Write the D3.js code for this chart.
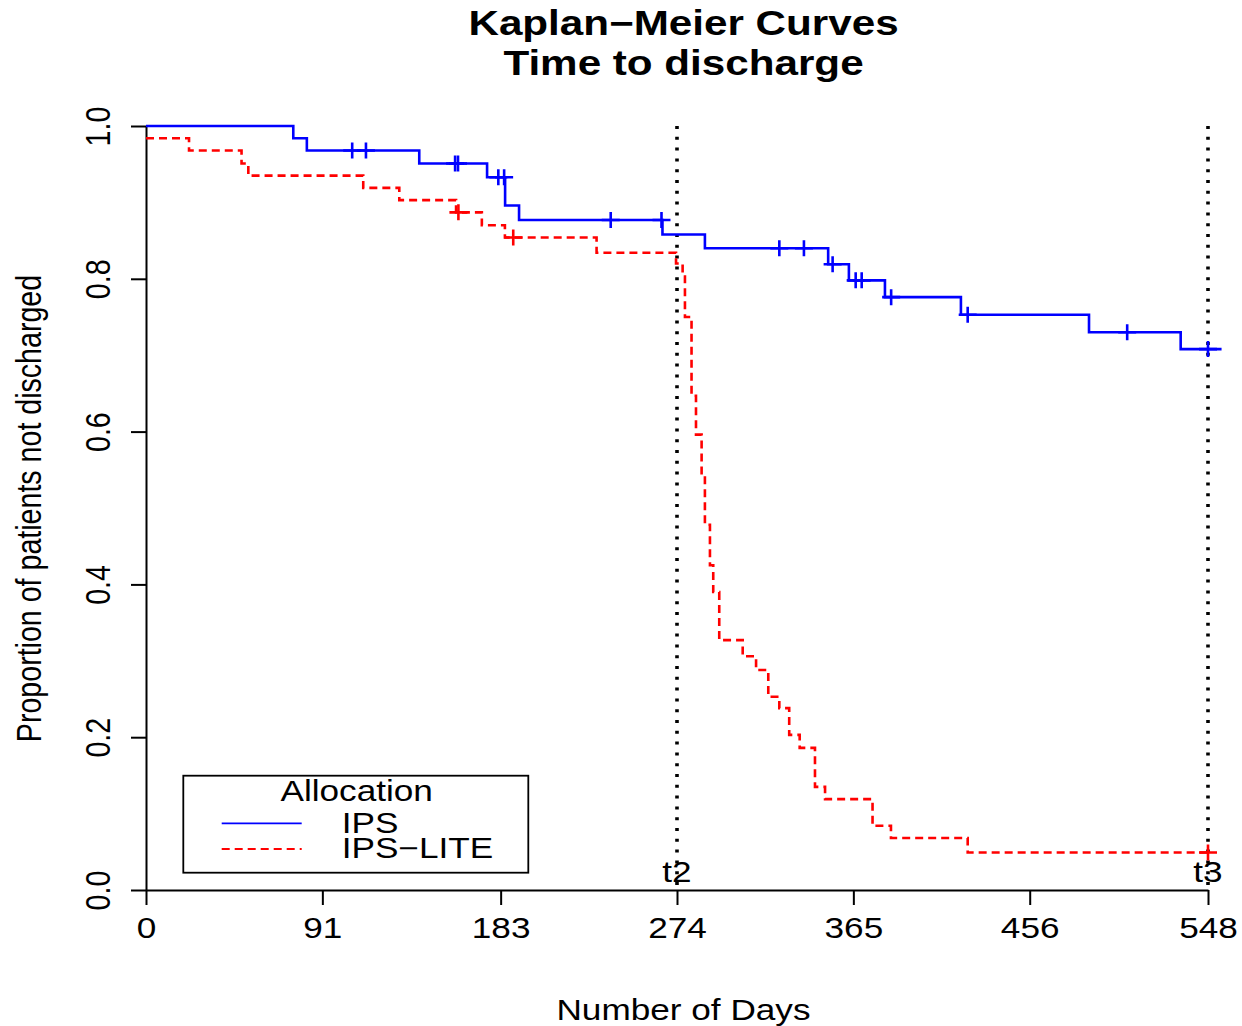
<!DOCTYPE html>
<html>
<head>
<meta charset="utf-8">
<script src="https://cdn.jsdelivr.net/npm/d3@7"></script>
<style>
  html, body { margin: 0; padding: 0; background: #fff; }
  svg { display: block; }
  text { font-family: "Liberation Sans", Arial, Helvetica, sans-serif; fill: #000; }
</style>
</head>
<body>
<svg id="chart" width="1242" height="1026"></svg>
<script>
// ---- Data ----
const titleLines = ["Kaplan\u2212Meier Curves", "Time to discharge"];
const xLabel = "Number of Days";
const yLabel = "Proportion of patients not discharged";
const xTicks = [0, 91, 183, 274, 365, 456, 548];
const yTicks = [0, 0.2, 0.4, 0.6, 0.8, 1.0];
const seriesNames = ["IPS", "IPS\u2212LITE"];
const legendTitle = "Allocation";

// IPS (blue, solid): step times (days) and survival after each step
const ipsTimes = [0, 76, 83, 141, 176, 185.3, 192.5, 266.5, 288.4, 352, 362.7, 381.3, 420.5, 486.6, 533.9];
const ipsSurv  = [1.0, 0.984, 0.968, 0.951, 0.933, 0.896, 0.877, 0.858, 0.840, 0.819, 0.798, 0.776, 0.753, 0.730, 0.708];
const ipsEnd = 555;
const ipsCensor = [106.4, 113.5, 159.5, 161, 181.8, 184.8, 239.8, 266, 326.8, 339.5, 354.3, 366.2, 369.3, 384.5, 424, 506.3, 548];

// IPS-LITE (red, dashed)
const liteTimes = [0, 22.2, 49.3, 52.8, 112.1, 130.7, 160, 173.3, 185.2, 232.5, 273.5, 276.9, 278.1, 281.5, 283.8, 286.7, 288.4, 291, 292.7, 295.8, 307.9, 314.8, 321.1, 326.8, 331.9, 337.3, 345.2, 350.4, 374.9, 384.4, 424];
const liteSurv  = [0.984, 0.968, 0.951, 0.935, 0.919, 0.903, 0.887, 0.870, 0.854, 0.834, 0.820, 0.803, 0.750, 0.647, 0.596, 0.543, 0.478, 0.425, 0.390, 0.327, 0.306, 0.288, 0.253, 0.238, 0.203, 0.186, 0.135, 0.119, 0.084, 0.068, 0.049];
const liteEnd = 549;
const liteCensor = [161.2, 189.5, 548];

// Reference time lines
const refTimes = [274, 548];
const refLabels = ["t2", "t3"];

// ---- Layout ----
const SX = 1.23;          // horizontal stretch of the original rendering
const FS = 28.6;          // base font size
const svg = d3.select("#chart");
const x = d3.scaleLinear().domain([0, 548]).range([146, 1208]);
const y = d3.scaleLinear().domain([0, 1]).range([890, 126]);

// Title
svg.append("text").attr("transform", `translate(683.5,35) scale(${SX},1)`)
  .attr("text-anchor", "middle").attr("font-weight", "bold").attr("font-size", 34.3)
  .text(titleLines[0]);
svg.append("text").attr("transform", `translate(683.5,75) scale(${SX},1)`)
  .attr("text-anchor", "middle").attr("font-weight", "bold").attr("font-size", 34.3)
  .text(titleLines[1]);

// Axes
const xAxis = svg.append("g").attr("transform", `translate(0,${y(0)})`)
  .call(d3.axisBottom(x).tickValues(xTicks).tickSize(15).tickSizeOuter(0).tickFormat(d3.format("d")));
xAxis.selectAll("path, line").attr("stroke", "#000").attr("stroke-width", 2);
xAxis.selectAll("text").attr("font-size", FS).attr("font-family", null)
  .attr("y", 48).attr("dy", null).attr("transform", `scale(${SX},1)`).attr("fill", "#000");

const yAxis = svg.append("g").attr("transform", `translate(${x(0)},0)`)
  .call(d3.axisLeft(y).tickValues(yTicks).tickSize(15).tickSizeOuter(0).tickFormat(d3.format(".1f")));
yAxis.selectAll("path, line").attr("stroke", "#000").attr("stroke-width", 2);
yAxis.selectAll("text").attr("font-size", FS).attr("font-family", null)
  .attr("x", null).attr("y", null).attr("dy", null).attr("text-anchor", "middle")
  .attr("transform", `translate(-36,0) rotate(-90) scale(1,${SX})`).attr("fill", "#000");

// Axis labels
svg.append("text").attr("transform", `translate(683.5,1020) scale(${SX},1)`)
  .attr("text-anchor", "middle").attr("font-size", FS).text(xLabel);
svg.append("text").attr("transform", `translate(41,508.5) rotate(-90) scale(1,${SX})`)
  .attr("text-anchor", "middle").attr("font-size", FS).text(yLabel);

// Reference dotted lines
refTimes.forEach((t, i) => {
  svg.append("line").attr("x1", x(t)).attr("x2", x(t)).attr("y1", y(1)).attr("y2", y(0))
    .attr("stroke", "#000").attr("stroke-width", 3.6).attr("stroke-dasharray", "3,7.8");
  svg.append("text").attr("transform", `translate(${x(t)},882) scale(${SX},1)`)
    .attr("text-anchor", "middle").attr("font-size", FS).text(refLabels[i]);
});

// Survival curves
const stepLine = d3.line().x(d => x(d[0])).y(d => y(d[1])).curve(d3.curveStepAfter);
function drawCurve(times, surv, end, censor, color, dash) {
  const pts = times.map((t, i) => [t, surv[i]]);
  pts.push([end, surv[surv.length - 1]]);
  svg.append("path").attr("d", stepLine(pts)).attr("fill", "none")
    .attr("stroke", color).attr("stroke-width", 2.6)
    .attr("stroke-dasharray", dash || null);
  const survAt = t => { let s = surv[0]; times.forEach((tt, i) => { if (tt <= t) s = surv[i]; }); return s; };
  svg.append("g").selectAll("path").data(censor).join("path")
    .attr("d", t => { const cx = x(t), cy = y(survAt(t)); return `M${cx - 9},${cy}H${cx + 9}M${cx},${cy - 8}V${cy + 8}`; })
    .attr("fill", "none").attr("stroke", color).attr("stroke-width", 2.6);
}
drawCurve(ipsTimes, ipsSurv, ipsEnd, ipsCensor, "#0000FF", null);
drawCurve(liteTimes, liteSurv, liteEnd, liteCensor, "#FF0000", "8,5");

// Legend
const lg = svg.append("g");
lg.append("rect").attr("x", 183.3).attr("y", 775.7).attr("width", 345).attr("height", 97)
  .attr("fill", "none").attr("stroke", "#000").attr("stroke-width", 1.8);
lg.append("text").attr("transform", `translate(356.7,800.7) scale(${SX},1)`)
  .attr("text-anchor", "middle").attr("font-size", FS).text(legendTitle);
const legColors = ["#0000FF", "#FF0000"];
const legDash = [null, "8,5"];
const legY = [823.3, 849];
const legTextY = [833.3, 858];
seriesNames.forEach((name, i) => {
  lg.append("line").attr("x1", 221.7).attr("x2", 301.7).attr("y1", legY[i]).attr("y2", legY[i])
    .attr("stroke", legColors[i]).attr("stroke-width", 1.8).attr("stroke-dasharray", legDash[i]);
  lg.append("text").attr("transform", `translate(341.7,${legTextY[i]}) scale(${SX},1)`)
    .attr("font-size", FS).text(name);
});
</script>
</body>
</html>
